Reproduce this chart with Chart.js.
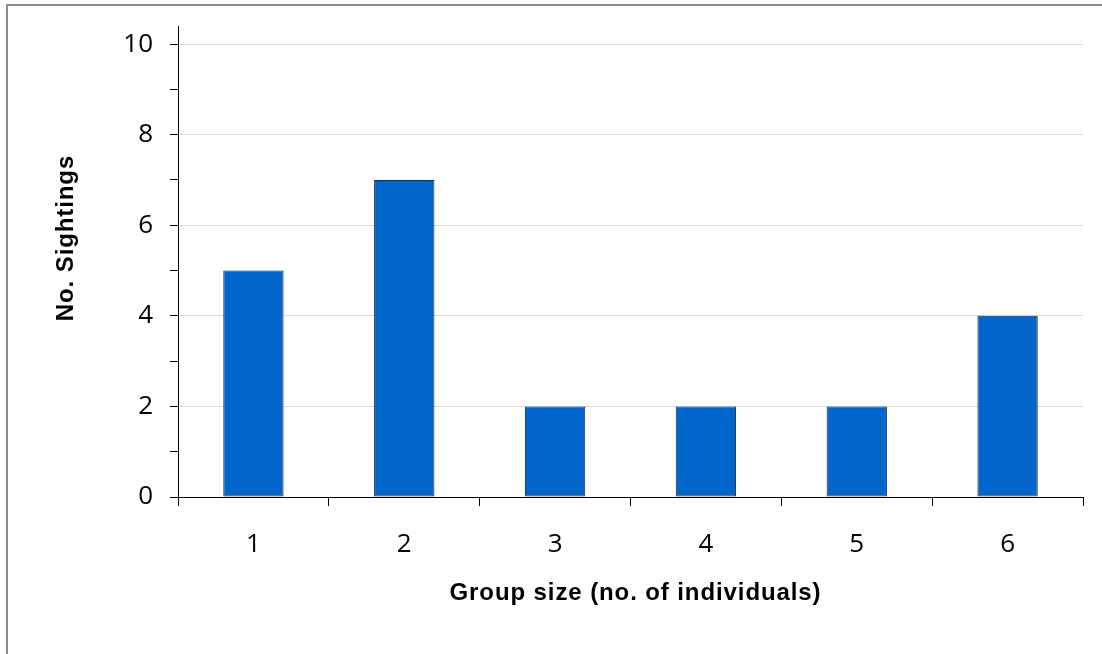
<!DOCTYPE html>
<html>
<head>
<meta charset="utf-8">
<script src="https://cdn.jsdelivr.net/npm/chart.js@4/dist/chart.umd.min.js"></script>
<style>
  html, body { margin: 0; padding: 0; background: #fff; overflow: hidden; }
  #wrap { position: relative; width: 1102px; height: 654px; }
  #frame { position: absolute; left: 6px; top: 4px; width: 1200px; height: 800px;
           border-left: 2px solid #8c8c8c; border-top: 2px solid #8c8c8c; pointer-events: none; }
  canvas { position: absolute; left: 0; top: 0; }
</style>
</head>
<body>
<div id="wrap">
  <canvas id="chart" width="1102" height="654"></canvas>
  <div id="frame"></div>
</div>
<script>
// Group sizes observed and how many sightings fell into each
const groupSizes = ['1', '2', '3', '4', '5', '6'];
const sightings = [5, 7, 2, 2, 2, 4];
const yTickValues = [0, 1, 2, 3, 4, 5, 6, 7, 8, 9, 10];

const xTitle = 'Group size (no. of individuals)';
const yTitle = 'No. Sightings';

const tickFont = { family: '"Open Sans", "DejaVu Sans", sans-serif', size: 26 };
const titleFont = 'bold 24px "Liberation Sans", Arial, sans-serif';

// Axis titles placed relative to the plot area
const axisTitles = {
  id: 'axisTitles',
  afterDraw(chart) {
    const { ctx, chartArea } = chart;
    ctx.save();
    ctx.fillStyle = '#000';
    ctx.font = titleFont;
    ctx.letterSpacing = '0.9px';
    ctx.textAlign = 'center';
    ctx.textBaseline = 'middle';
    ctx.fillText(xTitle, (chartArea.left + chartArea.right) / 2 + 5, chartArea.bottom + 96);
    ctx.translate(chartArea.left - 112, chartArea.top + 212);
    ctx.rotate(-Math.PI / 2);
    ctx.fillText(yTitle, 0, 0);
    ctx.restore();
  }
};

new Chart(document.getElementById('chart'), {
  type: 'bar',
  data: {
    labels: groupSizes,
    datasets: [{
      data: sightings,
      backgroundColor: '#0066CC',
      borderColor: '#1f2a3a',
      borderWidth: 1,
      borderSkipped: false,
      barPercentage: 0.4,
      categoryPercentage: 1.0
    }]
  },
  options: {
    responsive: false,
    animation: false,
    devicePixelRatio: 1,
    layout: { padding: { left: 0, top: 26, right: 19, bottom: 0 } },
    plugins: { legend: { display: false }, tooltip: { enabled: false } },
    scales: {
      x: {
        offset: true,
        border: { display: true, color: '#000', width: 1 },
        grid: {
          offset: true,
          drawOnChartArea: false,
          drawTicks: true,
          tickLength: 9,
          tickColor: '#000'
        },
        ticks: { color: '#000', font: tickFont, padding: 23, maxRotation: 0 },
        afterFit(scale) {
          scale.height = 157;
          scale.paddingLeft = 0;
          scale.paddingRight = 0;
        }
      },
      y: {
        min: 0,
        max: 10.4,
        border: { display: true, color: '#000', width: 1 },
        grid: {
          color: (c) => (c.tick && c.tick.value % 2 === 0 && c.tick.value > 0) ? '#d9d9d9' : 'rgba(0,0,0,0)',
          tickColor: '#000',
          tickLength: 8,
          drawTicks: true
        },
        ticks: {
          color: '#000',
          font: tickFont,
          padding: 17,
          callback: (v) => (v % 2 === 0 ? String(v) : '')
        },
        afterBuildTicks(scale) { scale.ticks = yTickValues.map(v => ({ value: v })); },
        afterFit(scale) {
          scale.width = 178;
          scale.paddingTop = 0;
          scale.paddingBottom = 0;
        }
      }
    }
  },
  plugins: [axisTitles]
});
</script>
</body>
</html>
